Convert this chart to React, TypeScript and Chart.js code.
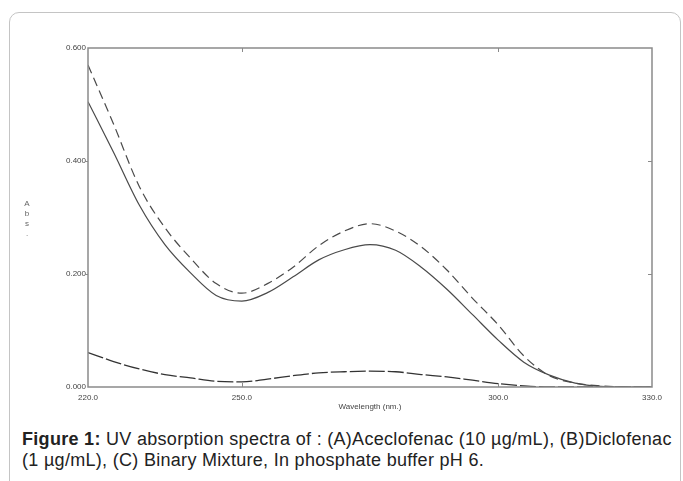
import React, { useEffect, useRef } from "react";
import { Chart, registerables } from "chart.js";

Chart.register(...registerables);

const wavelengths = [220, 225, 230, 235, 240, 245, 250, 255, 260, 265, 270, 275, 280, 285, 290, 295, 300, 305, 310, 315, 320, 325, 330];

const aceclofenac = [0.505, 0.415, 0.322, 0.252, 0.202, 0.162, 0.152, 0.167, 0.195, 0.225, 0.243, 0.252, 0.242, 0.212, 0.173, 0.128, 0.083, 0.044, 0.021, 0.007, 0.001, 0.0, 0.0];
const diclofenac = [0.061, 0.045, 0.032, 0.022, 0.016, 0.010, 0.009, 0.014, 0.020, 0.025, 0.027, 0.028, 0.027, 0.022, 0.018, 0.012, 0.006, 0.002, 0.0, 0.0, 0.0, 0.0, 0.0];
const mixture = [0.570, 0.465, 0.355, 0.282, 0.228, 0.183, 0.166, 0.183, 0.212, 0.250, 0.276, 0.289, 0.276, 0.248, 0.207, 0.157, 0.110, 0.055, 0.020, 0.007, 0.002, 0.0, 0.0];

const xTickValues = [220, 250, 300, 330];
const yTickValues = [0, 0.2, 0.4, 0.6];

const frameColor = "#8a8a8a";

const framePlugin = {
  id: "frame",
  afterDraw(chart: any) {
    const { ctx, chartArea } = chart;
    const xs = chart.scales.x;
    const ys = chart.scales.y;
    ctx.save();
    ctx.strokeStyle = frameColor;
    ctx.lineWidth = 1.5;
    ctx.strokeRect(chartArea.left, chartArea.top, chartArea.right - chartArea.left, chartArea.bottom - chartArea.top);
    ctx.lineWidth = 1;
    ctx.beginPath();
    xTickValues.slice(1, -1).forEach((v) => {
      const px = Math.round(xs.getPixelForValue(v)) + 0.5;
      ctx.moveTo(px, chartArea.bottom);
      ctx.lineTo(px, chartArea.bottom - 4);
      ctx.moveTo(px, chartArea.top);
      ctx.lineTo(px, chartArea.top + 4);
    });
    yTickValues.slice(1, -1).forEach((v) => {
      const py = Math.round(ys.getPixelForValue(v)) + 0.5;
      ctx.moveTo(chartArea.left, py);
      ctx.lineTo(chartArea.left - 3, py);
      ctx.moveTo(chartArea.right, py);
      ctx.lineTo(chartArea.right - 4, py);
    });
    ctx.stroke();
    ctx.restore();
  },
};

function toPoints(values: number[]) {
  return wavelengths.map((w, i) => ({ x: w, y: values[i] }));
}

export default function App() {
  const canvasRef = useRef<HTMLCanvasElement | null>(null);

  useEffect(() => {
    if (!canvasRef.current) return;
    const chart = new Chart(canvasRef.current, {
      type: "line",
      data: {
        datasets: [
          {
            label: "(A) Aceclofenac",
            data: toPoints(aceclofenac),
            borderColor: "#4a4a4a",
            borderWidth: 1.2,
            pointRadius: 0,
            cubicInterpolationMode: "monotone",
            fill: false,
          },
          {
            label: "(B) Diclofenac",
            data: toPoints(diclofenac),
            borderColor: "#333333",
            borderWidth: 1.3,
            borderDash: [16, 3],
            pointRadius: 0,
            cubicInterpolationMode: "monotone",
            fill: false,
          },
          {
            label: "(C) Binary Mixture",
            data: toPoints(mixture),
            borderColor: "#4a4a4a",
            borderWidth: 1.2,
            borderDash: [9, 5],
            pointRadius: 0,
            cubicInterpolationMode: "monotone",
            fill: false,
          },
        ],
      },
      options: {
        animation: false,
        responsive: false,
        devicePixelRatio: 1,
        layout: { padding: { left: 0, top: 48, right: 31, bottom: 0 } },
        plugins: {
          legend: { display: false },
          tooltip: { enabled: false },
        },
        scales: {
          x: {
            type: "linear",
            min: 220,
            max: 330,
            afterBuildTicks: (scale: any) => {
              scale.ticks = xTickValues.map((v) => ({ value: v }));
            },
            afterFit: (scale: any) => {
              scale.height = 28;
            },
            grid: { display: false, drawTicks: false },
            border: { display: false },
            ticks: {
              padding: 6,
              autoSkip: false,
              maxRotation: 0,
              color: "#444",
              font: { family: "Liberation Sans", size: 8 },
              callback: (v: any) => Number(v).toFixed(1),
            },
            title: {
              display: true,
              text: "Wavelength (nm.)",
              color: "#444",
              font: { family: "Liberation Sans", size: 8 },
              padding: { top: 0, bottom: 3 },
            },
          },
          y: {
            type: "linear",
            min: 0,
            max: 0.6,
            afterBuildTicks: (scale: any) => {
              scale.ticks = yTickValues.map((v) => ({ value: v }));
            },
            afterFit: (scale: any) => {
              scale.width = 88;
            },
            grid: { display: false, drawTicks: false },
            border: { display: false },
            ticks: {
              padding: 2,
              color: "#444",
              font: { family: "Liberation Sans", size: 8 },
              callback: (v: any) => Number(v).toFixed(3),
            },
            title: { display: false },
          },
        },
      },
      plugins: [framePlugin],
    } as any);
    return () => chart.destroy();
  }, []);

  return (
    <div style={{ position: "absolute", left: 0, top: 0, width: 683, height: 481, overflow: "hidden", background: "#fff" }}>
      <div
        style={{
          position: "absolute",
          left: 9,
          top: 12,
          width: 672,
          height: 520,
          border: "1px solid #c4c4c4",
          borderRadius: 10,
          boxSizing: "border-box",
        }}
      />
      <canvas ref={canvasRef} width={683} height={415} style={{ position: "absolute", left: 0, top: 0, width: 683, height: 415 }} />
      <div
        style={{
          position: "absolute",
          left: 22,
          top: 199,
          width: 10,
          textAlign: "center",
          fontFamily: "Liberation Sans",
          fontSize: 8,
          lineHeight: "10px",
          color: "#666",
        }}
      >
        <div>A</div>
        <div>b</div>
        <div>s</div>
        <div>.</div>
      </div>
      <div
        style={{
          position: "absolute",
          left: 22,
          top: 429,
          width: 660,
          fontFamily: "Liberation Sans",
          fontSize: 18,
          letterSpacing: 0.3,
          lineHeight: "21px",
          color: "#222",
        }}
      >
        <div style={{ whiteSpace: "nowrap" }}>
          <b>Figure 1:</b> UV absorption spectra of : (A)Aceclofenac (10 µg/mL), (B)Diclofenac
        </div>
        <div style={{ whiteSpace: "nowrap" }}>(1 µg/mL), (C) Binary Mixture, In phosphate buffer pH 6.</div>
      </div>
    </div>
  );
}
